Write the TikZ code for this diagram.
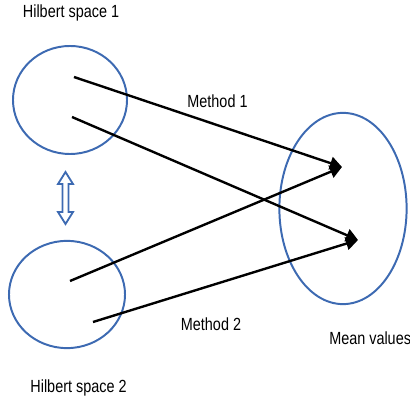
\documentclass[tikz,border=0pt]{standalone}
\usepackage{fontspec}
\setmainfont{Liberation Sans}[FakeStretch=0.82]
\usepackage{tikz}
\usetikzlibrary{positioning, arrows.meta, shapes.geometric}
\definecolor{hblue}{RGB}{61,106,178}

\begin{document}
\begin{tikzpicture}[x=0.025cm, y=-0.025cm, >={Triangle[length=0.3cm, width=0.32cm]},
    lbl/.style={inner sep=0pt, font=\fontsize{12.5}{15}\selectfont},
    space/.style={draw=hblue, line width=1.4pt, ellipse, inner sep=0pt},
    map/.style={->, line width=1.7pt}]
    \useasboundingbox (0,0) rectangle (410,400);
    % Hilbert spaces
    \node[space, minimum width=2.85cm, minimum height=2.7cm] (H1) at (70,100) {};
    \node[space, minimum width=2.9cm, minimum height=2.68cm] (H2) at (67,294.5) {};
    \node[lbl, anchor=base] (H1label) at (71,18) {Hilbert space 1};
    \node[lbl, anchor=base] (H2label) at (78.5,393) {Hilbert space 2};
    % Mean values
    \node[space, minimum width=3.18cm, minimum height=4.78cm] (M) at (343,208.5) {};
    \node[lbl, anchor=base west] (Mlabel) at (329,345) {Mean values};
    
    % equivalence arrow
    \draw[hblue, line width=1.3pt, line join=miter] (65.5,172) -- (73,184) -- (68.5,184) -- (68.5,212) -- (73,212)
      -- (65.5,224) -- (58,212) -- (62.5,212) -- (62.5,184) -- (58,184) -- cycle;
    
    \coordinate (a1) at (74,77);
    \coordinate (a2) at (72,117);
    \coordinate (b1) at (70,281);
    \coordinate (b2) at (93,322);
    \coordinate (t1) at (342,167);
    \coordinate (t2) at (358,240);
    
    \draw[map] (a1) -- (t1);
    \draw[map] (a2) -- (t2);
    \draw[map] (b1) -- (t1);
    \draw[map] (b2) -- (t2);
    
    \node[lbl, anchor=base] (m1) at (217.5,108) {Method 1};
    \node[lbl, anchor=base] (m2) at (211,331) {Method 2};
  \end{tikzpicture}
\end{document}
